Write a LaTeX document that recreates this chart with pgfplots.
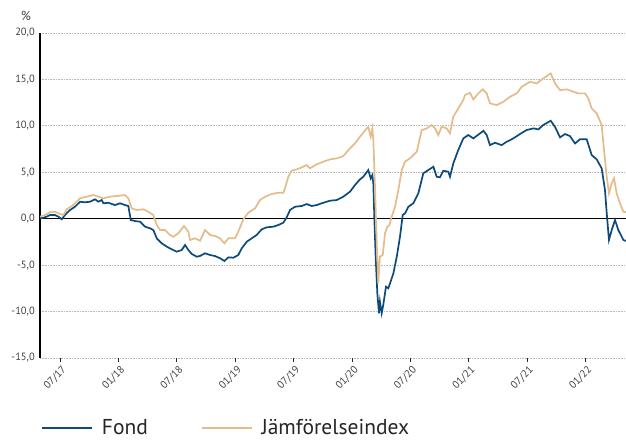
\documentclass[border=0pt]{standalone}
\usepackage{fontspec}
\setmainfont{PT Sans}
\usepackage{pgfplots}
\usepackage{pgfplotstable}
\pgfplotsset{compat=1.18}
\definecolor{fond}{HTML}{0D4A7C}
\definecolor{jmf}{HTML}{E3BC8A}
\definecolor{lbl}{HTML}{404040}
\pgfplotstableread{
m v
-2.06 0.00
-1.37 0.22
-1.03 0.40
-0.51 0.40
-0.17 0.22
0.17 -0.06
0.51 0.40
1.03 0.94
1.54 1.29
2.06 1.83
2.57 1.77
3.08 1.83
3.60 2.09
3.94 1.83
4.29 2.01
4.45 1.66
4.96 1.72
5.65 1.47
6.17 1.66
6.68 1.47
7.02 1.37
7.27 -0.14
7.71 -0.25
8.22 -0.32
8.74 -0.86
9.25 -1.03
9.59 -1.22
9.94 -2.11
10.45 -2.65
10.97 -3.01
11.48 -3.29
11.99 -3.55
12.51 -3.37
12.85 -2.83
13.19 -3.37
13.54 -3.80
14.05 -4.09
14.39 -4.01
14.90 -3.72
15.42 -3.91
15.93 -4.02
16.44 -4.26
16.89 -4.55
17.30 -4.16
17.81 -4.20
18.32 -3.91
18.67 -3.19
19.19 -2.48
19.70 -2.11
20.21 -1.75
20.73 -1.14
21.24 -0.93
21.92 -0.86
22.43 -0.68
22.95 -0.43
23.30 0.15
23.64 0.94
24.15 1.29
24.84 1.37
25.35 1.58
25.87 1.37
26.38 1.47
27.06 1.72
27.75 1.94
28.44 2.01
29.11 2.37
29.80 2.91
30.32 3.63
30.83 4.24
31.17 4.52
31.68 5.24
31.93 4.35
32.10 4.70
32.20 3.81
32.30 0.22
32.44 -4.09
32.61 -8.03
32.78 -10.18
32.88 -8.93
33.06 -10.18
33.22 -9.29
33.50 -7.32
33.74 -7.49
33.92 -6.95
34.26 -5.88
34.61 -4.09
34.94 -1.94
35.22 0.40
35.46 0.58
35.80 1.29
36.31 1.66
36.82 2.73
37.34 4.89
37.85 5.24
38.37 5.60
38.71 4.52
39.05 4.46
39.39 5.17
39.91 5.06
40.08 4.52
40.42 5.96
40.93 7.39
41.45 8.65
41.96 9.01
42.48 8.65
43.17 9.19
43.52 9.47
43.85 9.01
44.19 7.93
44.71 8.18
45.39 7.93
45.91 8.29
46.59 8.65
47.27 9.12
47.96 9.55
48.64 9.73
49.16 9.62
49.67 10.09
50.43 10.55
50.87 9.90
51.39 8.76
51.90 9.12
52.41 8.90
52.93 8.11
53.44 8.55
54.13 8.55
54.64 6.86
55.16 6.39
55.67 5.42
56.01 3.09
56.19 0.58
56.42 -2.29
56.70 -1.22
57.04 -0.14
57.38 -1.22
57.90 -2.29
58.17 -2.40
}\fond
\pgfplotstableread{
m v
-2.06 0.22
-1.54 0.40
-1.03 0.69
-0.51 0.75
0.00 0.51
0.34 0.40
0.69 1.01
1.37 1.47
2.06 2.20
2.74 2.37
3.42 2.55
3.94 2.37
4.45 2.20
5.14 2.37
5.83 2.44
6.68 2.55
7.02 2.20
7.37 1.12
7.88 0.94
8.56 1.01
9.07 0.75
9.59 0.40
9.94 -0.68
10.28 -1.22
10.79 -1.22
11.30 -1.75
11.64 -1.94
12.16 -1.57
12.74 -0.79
13.19 -1.40
13.36 -2.29
13.87 -2.11
14.39 -2.37
14.90 -1.22
15.42 -1.75
15.93 -1.86
16.44 -2.11
16.89 -2.65
17.30 -2.11
17.98 -2.11
18.32 -1.40
18.84 -0.06
19.35 0.65
20.04 1.12
20.55 2.01
21.07 2.37
21.76 2.66
22.43 2.80
22.95 2.80
23.12 3.27
23.46 4.52
23.81 5.17
24.33 5.32
24.84 5.53
25.35 5.78
25.69 5.43
26.38 5.86
27.06 6.14
27.75 6.39
28.44 6.50
29.11 6.75
29.80 7.58
30.32 8.12
30.83 8.83
31.52 9.73
31.68 9.90
31.93 8.83
32.10 9.73
32.20 8.47
32.37 3.44
32.55 -2.65
32.71 -6.95
32.88 -4.09
33.17 -3.91
33.40 -1.57
33.64 -0.86
33.85 -0.68
34.09 0.22
34.43 1.29
34.77 3.09
35.12 5.24
35.46 6.14
35.97 6.50
36.66 7.21
37.17 9.55
37.69 9.73
38.20 10.09
38.54 9.73
38.88 9.01
39.22 9.90
39.74 9.73
40.08 9.19
40.42 10.98
40.93 11.88
41.45 12.78
41.62 13.32
42.13 13.56
42.48 12.85
42.99 13.50
43.44 13.93
43.85 13.50
44.19 12.42
44.88 12.24
45.56 12.59
46.25 13.13
46.94 13.50
47.45 14.21
48.30 14.75
48.99 14.57
49.67 15.11
50.43 15.65
50.87 14.57
51.39 13.85
52.08 13.93
52.76 13.67
53.27 13.50
53.96 13.50
54.30 12.96
54.64 11.88
55.16 11.35
55.67 10.09
55.91 7.39
56.19 4.52
56.42 2.73
56.70 3.81
56.94 4.35
57.21 2.73
57.55 1.66
57.90 0.75
58.17 0.72
}\jmf
\begin{document}
\begin{tikzpicture}
\useasboundingbox (0,0) rectangle (626pt,440pt);
\begin{axis}[
  at={(40pt,82pt)}, anchor=south west,
  scale only axis, width=586pt, height=325pt,
  xmin=-2.06, xmax=58.17, ymin=-15, ymax=20,
  axis y line*=left, axis x line*=bottom,
  x axis line style={draw=none},
  y axis line style={black, line width=1.2pt, -},
  xtick={0,6,...,54},
  xticklabels={07/17,01/18,07/18,01/19,07/19,01/20,07/20,01/21,07/21,01/22},
  ytick={-15,-10,...,20},
  /pgf/number format/.cd, fixed, fixed zerofill, precision=1, use comma, assume math mode=true,
  /pgfplots/.cd,
  xticklabel style={rotate=45, anchor=north east, font=\fontsize{10.5}{12}\selectfont, text=lbl, inner sep=1pt, yshift=-2pt},
  yticklabel style={font=\fontsize{10.5}{12}\selectfont, text=lbl, inner sep=1pt},
  ymajorgrids,
  major grid style={dash pattern=on 0.8pt off 0.8pt, color=black!28, line width=0.8pt},
  tick align=outside,
  major tick length=4pt,
  xtick style={black!85, line width=0.8pt},
  ytick style={draw=none},
  extra y ticks={0}, extra y tick labels={},
  extra y tick style={grid=major, major grid style={black, solid, line width=0.9pt}, tick style={draw=none}},
  clip=true,
  legend columns=2,
  legend style={at={(0,0)}, anchor=west, xshift=1pt, yshift=-70pt, draw=none, fill=none,
    font=\fontsize{21.5}{24}\selectfont, text=black!85, inner sep=0pt,
    /tikz/every even column/.append style={column sep=51pt}},
  legend image code/.code={\draw[#1] (0pt,0pt) -- (50pt,0pt); \path (57pt,0pt);},
]
\addplot[fond, line width=1.7pt] table[x=m, y=v] {\fond};
\addlegendentry{Fond}
\addplot[jmf, line width=1.7pt] table[x=m, y=v] {\jmf};
\addlegendentry{Jämförelseindex}
\end{axis}
\node[font=\fontsize{13}{14}\selectfont, text=lbl] at (26pt,424pt) {\%};
\end{tikzpicture}
\end{document}
